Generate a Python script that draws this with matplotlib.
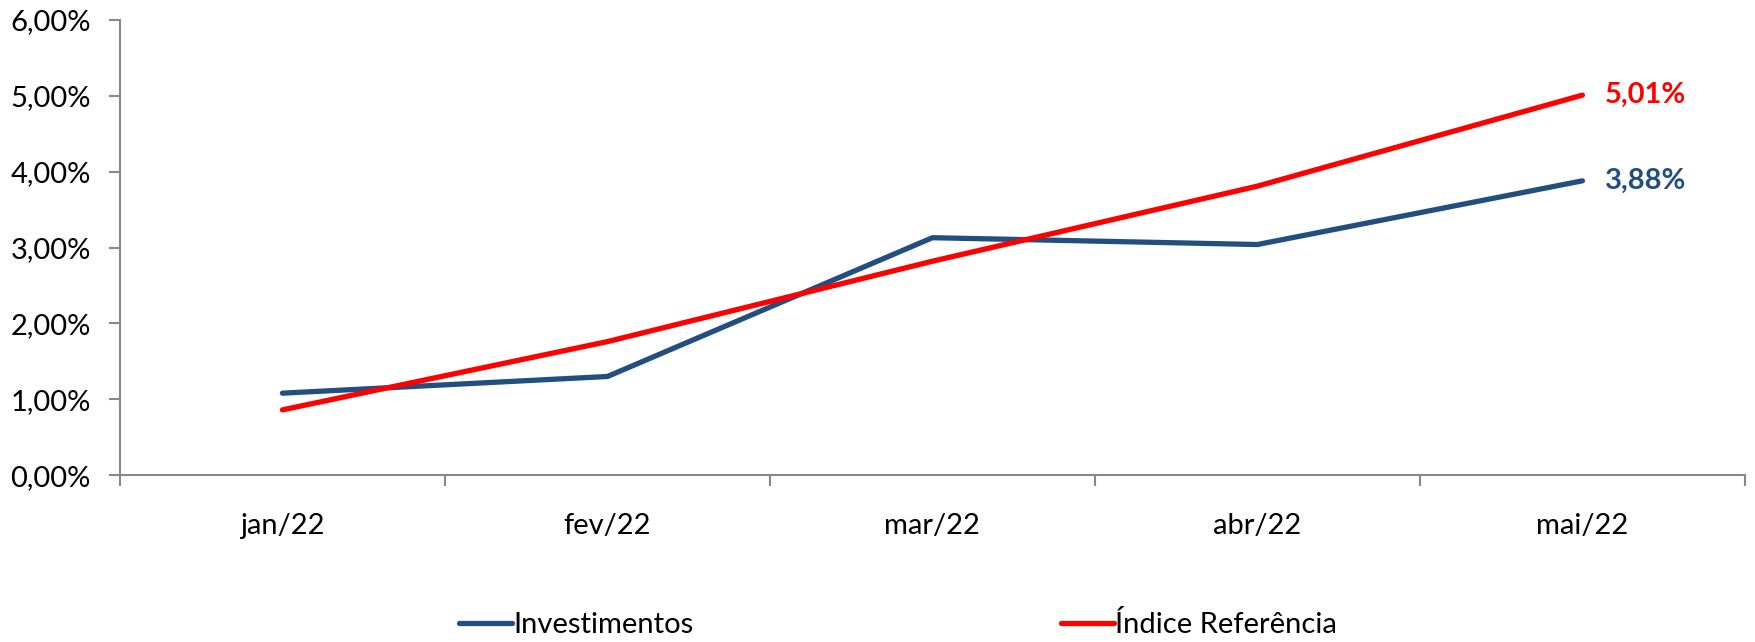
import matplotlib
matplotlib.use("Agg")
import matplotlib.pyplot as plt
from matplotlib.ticker import FuncFormatter, FixedLocator

categories = ["jan/22", "fev/22", "mar/22", "abr/22", "mai/22"]
investimentos = [1.08, 1.30, 3.13, 3.04, 3.88]
indice_ref = [0.86, 1.76, 2.82, 3.81, 5.01]
series_names = ["Investimentos", "Índice Referência"]
y_ticks = [0, 1, 2, 3, 4, 5, 6]

BLUE = "#234E80"
RED = "#FF0000"
GRAY = "#888888"

plt.rcParams['font.family'] = ['Lato', 'DejaVu Sans']

fig = plt.figure(figsize=(17.56, 6.42), dpi=100)
ax = fig.add_axes([0.0683, 0.260, 0.9254, 0.7088])

x = list(range(len(categories)))
ax.plot(x, investimentos, color=BLUE, lw=3.8, solid_capstyle='round', label=series_names[0])
ax.plot(x, indice_ref, color=RED, lw=3.8, solid_capstyle='round', label=series_names[1])

ax.set_xlim(-0.5, len(categories) - 0.5)
ax.set_ylim(0, 6)

ax.set_yticks(y_ticks)
ax.yaxis.set_major_formatter(FuncFormatter(lambda v, p: f"{v:.2f}%".replace(".", ",")))

ax.set_xticks(x)
ax.set_xticklabels(categories)
ax.xaxis.set_minor_locator(FixedLocator([i + 0.5 for i in range(-1, len(categories))]))
ax.tick_params(axis='x', which='major', length=0, pad=27, labelsize=21)
ax.tick_params(axis='x', which='minor', length=8, width=1.5, color=GRAY)
ax.tick_params(axis='y', length=8, width=1.5, color=GRAY, pad=13, labelsize=21)

for s in ['top', 'right']:
    ax.spines[s].set_visible(False)
for s in ['left', 'bottom']:
    ax.spines[s].set_color(GRAY)
    ax.spines[s].set_linewidth(1.5)

# end labels
ax.annotate(f"{indice_ref[-1]:.2f}%".replace(".", ","), (x[-1], indice_ref[-1]),
            xytext=(16, 0), textcoords='offset points', va='center', ha='left',
            color=RED, fontsize=21, fontweight='bold')
ax.annotate(f"{investimentos[-1]:.2f}%".replace(".", ","), (x[-1], investimentos[-1]),
            xytext=(16, 0), textcoords='offset points', va='center', ha='left',
            color=BLUE, fontsize=21, fontweight='bold')

fig.legend(loc='center', bbox_to_anchor=(0.5115, 0.027), ncol=2, frameon=False,
           fontsize=21, handlelength=1.8, handletextpad=0.05, columnspacing=12.6)

fig.savefig("out.png", dpi=100)
